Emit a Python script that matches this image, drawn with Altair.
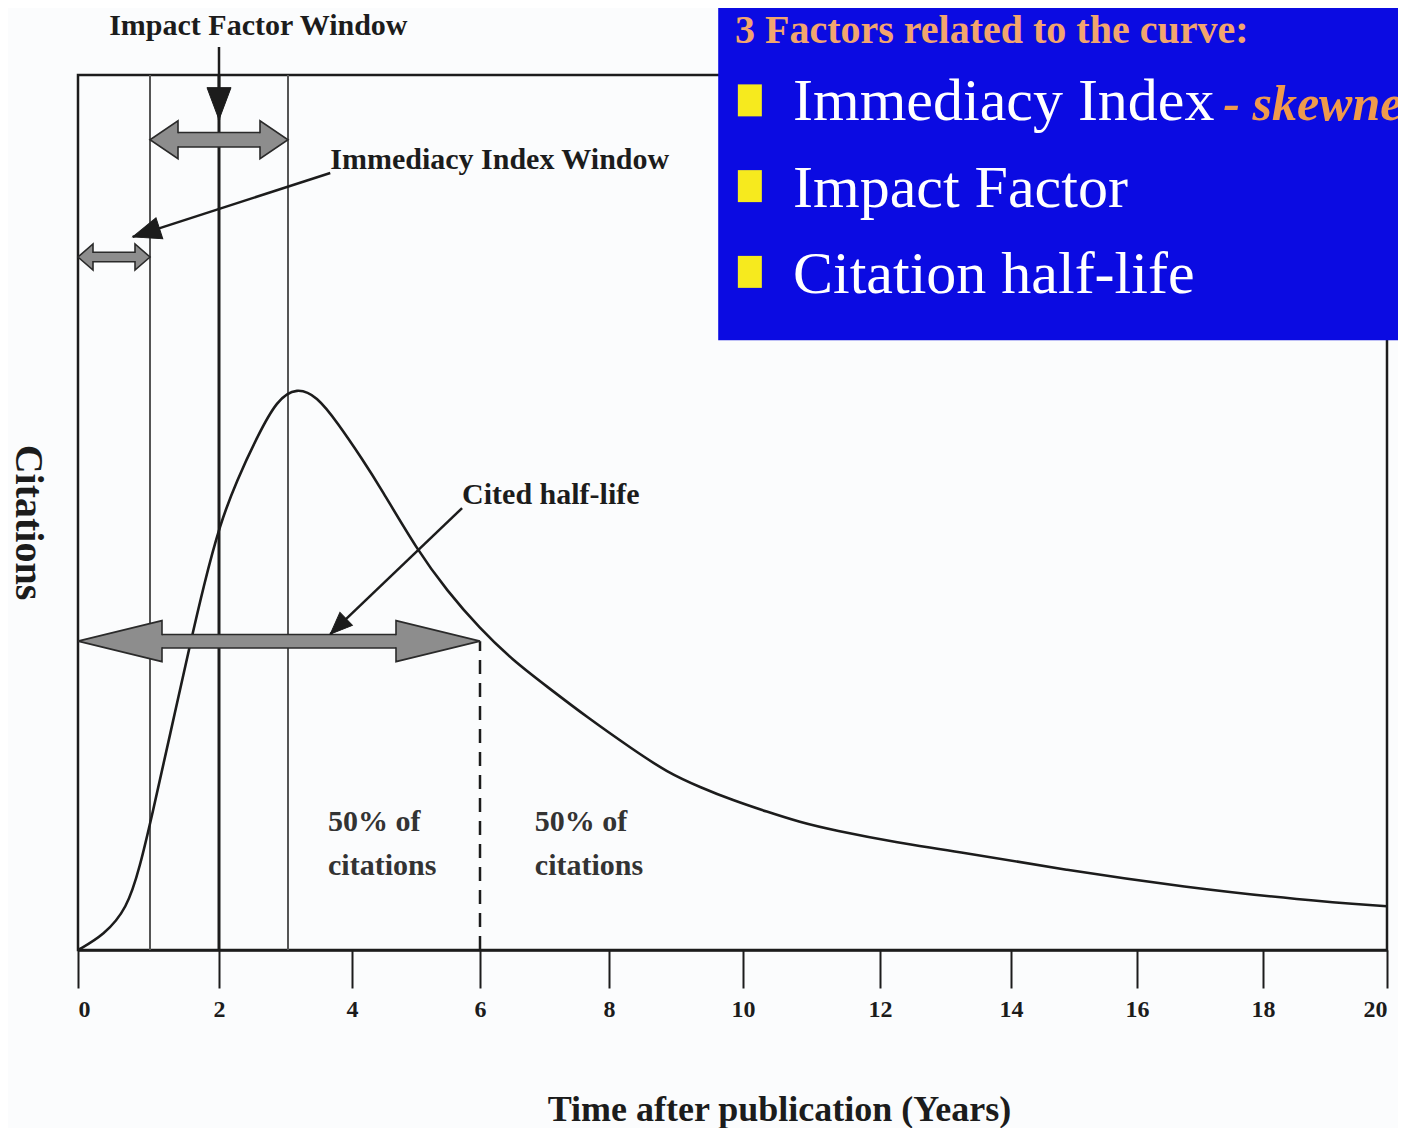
import altair as alt
import numpy as np
import pandas as pd

# ---------------- scales (the scanned axis is slightly uneven) ----------------
X_DOMAIN = [0, 1, 2, 3, 4, 6, 8, 10, 12, 14, 16, 18, 20]
X_RANGE = [0, 72, 141, 210, 274, 402, 531, 665, 802, 933, 1059, 1185, 1309]
W, H = 1309, 875
X_TICKS = list(range(0, 21, 2))

# ---------------- data ----------------
years = [0, 0.36, 0.68, 0.86, 1.03, 1.29, 1.58, 1.78, 2.01, 2.26, 2.55, 2.84,
         3.14, 3.45, 3.77, 4.17, 4.44, 5.02, 5.48, 6.0, 6.51, 7.04, 7.66, 8.36,
         8.87, 9.36, 9.85, 10.35, 10.83, 11.31, 12.31, 13.07, 14.89, 16.75,
         18.63, 20.0]
citations = [0, 1.7, 4.7, 9.5, 15.4, 24.6, 34.9, 41.7, 48.6, 53.7, 58.6, 62.9,
             64.3, 63.3, 60.3, 56.0, 52.9, 45.7, 41.1, 36.7, 33.1, 30.1, 26.6, 22.9,
             20.3, 18.6, 17.1, 15.8, 14.6, 13.7, 12.2, 11.4, 9.1, 7.2,
             5.7, 5.0]

window_edges = [1, 3]          # immediacy / impact-factor window edges
window_mid = [2]               # impact factor year
half_life_year = 6
half_life_level = 35.3

# double arrows: start year, end year, level
imm_arrow = [0, 1, 79.2]
if_arrow = [1, 3, 92.6]
hl_arrow = [0, 6, half_life_level]

# pointer arrows: label, tail (x, y), tip (x, y)
ptr_labels = ["Impact Factor Window", "Immediacy Index Window", "Cited half-life"]
ptr_tail_x = [2, 3.66, 5.72]
ptr_tail_y = [103.2, 88.8, 50.5]
ptr_tip_x = [2, 0.76, 3.66]
ptr_tip_y = [94.9, 81.5, 36.1]

# annotation text
lbl_x = [2.57, 3.66, 5.72]
lbl_y = [105.6, 90.3, 52.0]
pct_text = ["50% of", "citations", "50% of", "citations"]
pct_x = [3.625, 3.625, 6.85, 6.85]
pct_y = [14.6, 9.6, 14.6, 9.6]

# slide overlay box
box_x = [9.63, 21]
box_y = [69.7, 112]
box_title = "3 Factors related to the curve:"
box_title_pos = [9.88, 103.66]
bullets = ["Immediacy Index", "Impact Factor", "Citation half-life"]
bullet_text_x = 10.73
bullet_mark_x = 10.10
bullet_base_y = [94.9, 84.9, 75.1]
bullet_mark_y = [97.1, 87.3, 77.5]
skew_text = "- skewness"
skew_x = 17.37

# ---------------- helpers ----------------
FONT = "Liberation Serif"
INK = "#1c1c1c"
GRAY = "#8d8d8d"

XSCALE = alt.Scale(domain=X_DOMAIN, range=X_RANGE, nice=False, zero=False)
YSCALE = alt.Scale(domain=[0, 100], nice=False, zero=False)
XAXIS = alt.Axis(values=X_TICKS, tickSize=38, tickWidth=2, tickColor=INK,
                 domainColor=INK, domainWidth=2.5, labelFont=FONT,
                 labelFontWeight="bold", labelFontSize=24, labelColor=INK,
                 labelPadding=9, grid=False, title="Time after publication (Years)",
                 titleFont=FONT, titleFontSize=36, titleFontWeight="bold",
                 titleColor=INK, titleX=701, titleY=170, titleAlign="center",
                 titleBaseline="alphabetic")
YAXIS = alt.Axis(title="Citations", labels=False, ticks=False, domain=False,
                 grid=False, titleAngle=90, titleX=-51, titleY=447,
                 titleFont=FONT, titleFontSize=40, titleFontWeight="bold",
                 titleColor=INK, titleAlign="center", titleBaseline="middle")


def X():
    return alt.X("x:Q", scale=XSCALE, axis=XAXIS)


def Y():
    return alt.Y("y:Q", scale=YSCALE, axis=YAXIS)


def px(x, y):
    return float(np.interp(x, X_DOMAIN, X_RANGE)), H * (1 - y / 100.0)


def head_angle(tip, tail):
    (tx, ty), (sx, sy) = px(*tip), px(*tail)
    return float(np.degrees(np.arctan2(sy - ty, sx - tx)) % 360)


def block_head(L, hh, s):
    return (f"M{L},{-s/2}L{L},{-hh/2}L0,0L{L},{hh/2}L{L},{s/2}")


def double_arrow(spec, L, hh, s):
    x0, x1, yv = spec
    df = pd.DataFrame({"x": [x0], "x2": [x1], "y": [yv]})
    outline = alt.Chart(df).mark_rule(color="#2a2a2a", strokeWidth=s + 3,
                                      xOffset=L - 1, x2Offset=-(L - 1)).encode(
        x=X(), x2="x2:Q", y=Y())
    shaft = alt.Chart(df).mark_rule(color=GRAY, strokeWidth=s,
                                    xOffset=L - 2, x2Offset=-(L - 2)).encode(
        x=X(), x2="x2:Q", y=Y())
    shape = block_head(L, hh, s)
    left = alt.Chart(pd.DataFrame({"x": [x0], "y": [yv]})).mark_point(
        shape=shape, size=4, filled=True, fill=GRAY, stroke="#2a2a2a",
        strokeWidth=1.6, opacity=1, angle=0).encode(x=X(), y=Y())
    right = alt.Chart(pd.DataFrame({"x": [x1], "y": [yv]})).mark_point(
        shape=shape, size=4, filled=True, fill=GRAY, stroke="#2a2a2a",
        strokeWidth=1.6, opacity=1, angle=180).encode(x=X(), y=Y())
    return [outline, shaft, left, right]


# ---------------- layers ----------------
layers = []

edges = alt.Chart(pd.DataFrame({"x": window_edges, "y": [0] * 2, "y2": [100] * 2})
                  ).mark_rule(color="#555555", strokeWidth=2).encode(
    x=X(), y=Y(), y2="y2:Q")
mid = alt.Chart(pd.DataFrame({"x": window_mid, "y": [0], "y2": [100]})
                ).mark_rule(color=INK, strokeWidth=3).encode(
    x=X(), y=Y(), y2="y2:Q")
layers += [edges, mid]

curve = alt.Chart(pd.DataFrame({"x": years, "y": citations})).mark_line(
    color=INK, strokeWidth=2.6, interpolate="basis").encode(x=X(), y=Y())
layers.append(curve)

dash = alt.Chart(pd.DataFrame({"x": [half_life_year], "y": [0],
                               "y2": [half_life_level]})).mark_rule(
    color=INK, strokeWidth=2.5, strokeDash=[14, 9]).encode(
    x=X(), y=Y(), y2="y2:Q")
layers.append(dash)

layers += double_arrow(imm_arrow, 15, 26, 8)
layers += double_arrow(if_arrow, 28, 38, 13)
layers += double_arrow(hl_arrow, 84, 41, 12)

head_dims = [(32, 24), (28, 22), (22, 18)]
for i in range(3):
    tail = (ptr_tail_x[i], ptr_tail_y[i])
    tip = (ptr_tip_x[i], ptr_tip_y[i])
    line = alt.Chart(pd.DataFrame({"x": [tail[0]], "y": [tail[1]],
                                   "x2": [tip[0]], "y2": [tip[1]]})).mark_rule(
        color=INK, strokeWidth=2.5).encode(x=X(), y=Y(), x2="x2:Q", y2="y2:Q")
    L, w = head_dims[i]
    head = alt.Chart(pd.DataFrame({"x": [tip[0]], "y": [tip[1]]})).mark_point(
        shape=f"M0,0L{L},{-w/2}L{L},{w/2}Z", size=4, filled=True, fill=INK,
        stroke=INK, strokeWidth=1, opacity=1,
        angle=head_angle(tip, tail)).encode(x=X(), y=Y())
    layers += [line, head]

lbl_df = pd.DataFrame({"x": lbl_x, "y": lbl_y, "t": ptr_labels})
lbl_center = alt.Chart(lbl_df.iloc[[0]]).mark_text(
    font=FONT, fontSize=30, fontWeight="bold", color=INK, align="center",
    baseline="middle").encode(x=X(), y=Y(), text="t:N")
lbl_left = alt.Chart(lbl_df.iloc[1:]).mark_text(
    font=FONT, fontSize=30, fontWeight="bold", color=INK, align="left",
    baseline="middle").encode(x=X(), y=Y(), text="t:N")
pct = alt.Chart(pd.DataFrame({"x": pct_x, "y": pct_y, "t": pct_text})).mark_text(
    font=FONT, fontSize=30, fontWeight="bold", color="#333333", align="left",
    baseline="middle").encode(x=X(), y=Y(), text="t:N")
layers += [lbl_center, lbl_left, pct]

# overlay box
box = alt.Chart(pd.DataFrame({"x": [box_x[0]], "x2": [box_x[1]],
                              "y": [box_y[0]], "y2": [box_y[1]]})).mark_rect(
    color="#0b0be2").encode(x=X(), x2="x2:Q", y=Y(), y2="y2:Q")
title_t = alt.Chart(pd.DataFrame({"x": [box_title_pos[0]], "y": [box_title_pos[1]],
                                  "t": [box_title]})).mark_text(
    font=FONT, fontSize=40, fontWeight="bold", color="#f2a56e", align="left",
    baseline="alphabetic").encode(x=X(), y=Y(), text="t:N")
bmarks = alt.Chart(pd.DataFrame({"x": [bullet_mark_x] * 3, "y": bullet_mark_y})
                   ).mark_point(shape="M-12,-16L12,-16L12,16L-12,16Z", size=4,
                                filled=True, fill="#f6ea1e", opacity=1,
                                strokeWidth=0).encode(x=X(), y=Y())
btext = alt.Chart(pd.DataFrame({"x": [bullet_text_x] * 3, "y": bullet_base_y,
                                "t": bullets})).mark_text(
    font=FONT, fontSize=60, color="#ffffff", align="left",
    baseline="alphabetic").encode(x=X(), y=Y(), text="t:N")
skew = alt.Chart(pd.DataFrame({"x": [skew_x], "y": [bullet_base_y[0]],
                               "t": [skew_text]})).mark_text(
    font=FONT, fontSize=50, fontStyle="italic", fontWeight="bold",
    color="#ef9a4c", align="left", baseline="alphabetic").encode(
    x=X(), y=Y(), text="t:N")
layers += [box, title_t, bmarks, btext, skew]

chart = alt.layer(*layers).properties(
    width=W, height=H,
    padding={"left": 70, "top": 67, "right": 11, "bottom": 178},
    autosize=alt.AutoSizeParams(type="none"),
    background="#fbfcfd",
).configure_view(stroke=INK, strokeWidth=2.5)

chart.save("out.html", embed_options={"renderer": "svg", "actions": False})
